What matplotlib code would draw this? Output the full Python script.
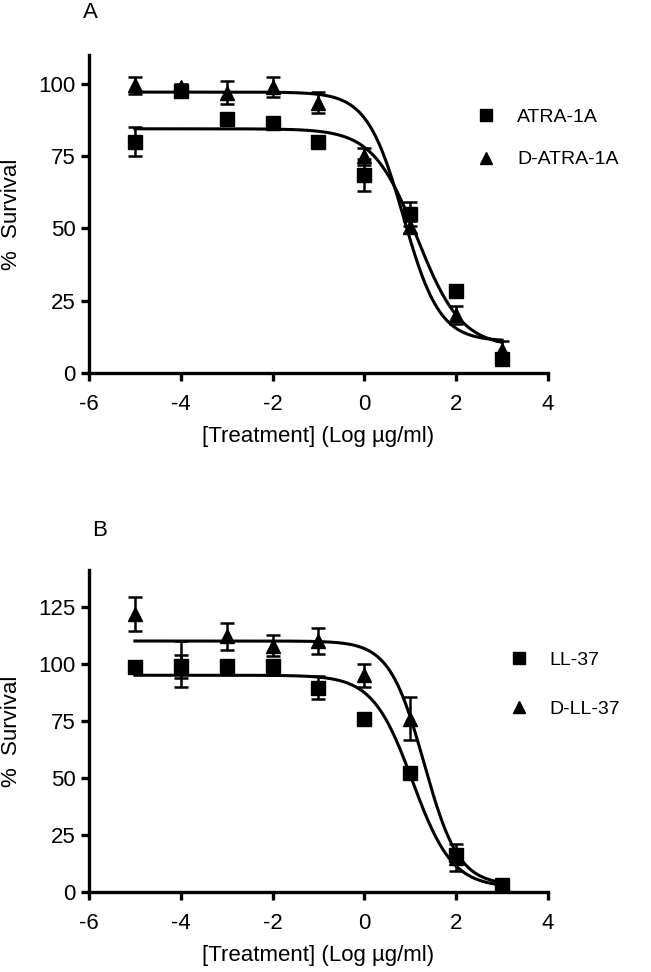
import matplotlib.pyplot as plt
import numpy as np
from matplotlib.lines import Line2D

plt.rcParams['font.family'] = ['Liberation Sans', 'DejaVu Sans']
plt.rcParams['axes.unicode_minus'] = False

# concentrations (log ug/ml)
x = np.array([-5, -4, -3, -2, -1, 0, 1, 2, 3])

# panel A
atra = [80, 97.5, 88, 86.5, 80, 68.5, 55, 28.5, 5]
atra_err = [5, 1, 2, 1, 1, 5.5, 4, 1, 2]
d_atra = [99.5, 99, 97, 99, 93.5, 75, 50.5, 20, 8]
d_atra_err = [3, 1, 4, 3.5, 3.7, 3, 2, 3, 3]

# panel B
ll37 = [98.5, 99, 99, 99, 89.5, 76, 52, 16, 3]
ll37_err = [2, 5, 1.5, 1.5, 5, 1.5, 2, 2, 1]
d_ll37 = [122, 100, 112, 108, 110, 95, 76, 15, 3]
d_ll37_err = [7.5, 10, 6, 4.5, 5.5, 5, 9.5, 6, 2]

# 4PL fit params: top, bottom, logEC50, hill
fit_atra = [84.5, 9, 1.15, 0.9]
fit_d_atra = [97.2, 11, 0.85, 1.1]
fit_ll37 = [95, 2, 1.05, 1.0]
fit_d_ll37 = [110, 3, 1.3, 1.15]


def fourpl(xx, p):
    top, bottom, ec50, h = p
    return bottom + (top - bottom) / (1 + 10 ** ((xx - ec50) * h))


fig = plt.figure(figsize=(6.51, 9.72), dpi=100)
axA = fig.add_axes([0.1367, 0.6163, 0.705, 0.327])
axB = fig.add_axes([0.1367, 0.0823, 0.705, 0.331])

xs = np.linspace(-5, 3, 300)


def panel(ax, s1, e1, s2, e2, f1, f2, ymax, yticks, labels, leg_anchor, spacing):
    ax.plot(xs, fourpl(xs, f1), color='black', lw=2.2)
    ax.plot(xs, fourpl(xs, f2), color='black', lw=2.2)
    ax.errorbar(x, s1, yerr=e1, fmt='s', color='black', ms=10, capsize=5,
                elinewidth=1.8, capthick=1.8)
    ax.errorbar(x, s2, yerr=e2, fmt='^', color='black', ms=10, capsize=5,
                elinewidth=1.8, capthick=1.8)
    ax.set_xlim(-6, 4)
    ax.set_ylim(0, ymax)
    ax.set_xticks([-6, -4, -2, 0, 2, 4])
    ax.set_yticks(yticks)
    for s in ['top', 'right']:
        ax.spines[s].set_visible(False)
    for s in ['left', 'bottom']:
        ax.spines[s].set_linewidth(2.4)
    ax.tick_params(width=2.4, length=6, labelsize=16)
    ax.tick_params(axis='x', pad=9)
    ax.set_xlabel('[Treatment] (Log µg/ml)', fontsize=16, labelpad=8)
    ax.set_ylabel('%  Survival', fontsize=16)
    ax.yaxis.set_label_coords(-0.145, 0.5)
    handles = [Line2D([], [], marker='s', ls='none', color='black', ms=9),
               Line2D([], [], marker='^', ls='none', color='black', ms=9)]
    ax.legend(handles, labels, loc='upper left', bbox_to_anchor=leg_anchor,
              bbox_transform=fig.transFigure, frameon=False, fontsize=14,
              handletextpad=0.6, labelspacing=spacing, borderaxespad=0)


panel(axA, atra, atra_err, d_atra, d_atra_err, fit_atra, fit_d_atra,
      110, [0, 25, 50, 75, 100], ['ATRA-1A', 'D-ATRA-1A'], (0.705, 0.897), 1.3)
panel(axB, ll37, ll37_err, d_ll37, d_ll37_err, fit_ll37, fit_d_ll37,
      141, [0, 25, 50, 75, 100, 125], ['LL-37', 'D-LL-37'], (0.755, 0.338), 1.6)

fig.text(90 / 651, 1 - 12 / 972, 'A', fontsize=16, ha='center', va='center')
fig.text(100 / 651, 1 - 531 / 972, 'B', fontsize=16, ha='center', va='center')

fig.savefig('out.png', dpi=100)
